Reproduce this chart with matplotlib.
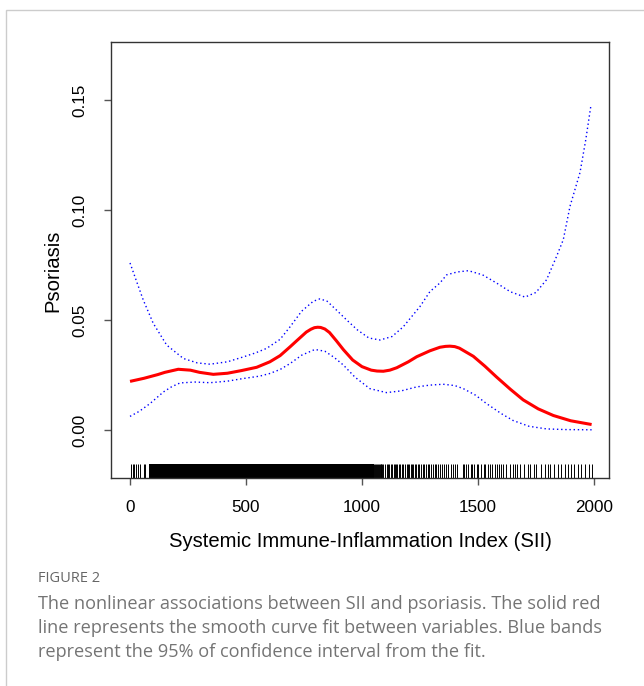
import numpy as np
import matplotlib
matplotlib.use("Agg")
import matplotlib.pyplot as plt
from matplotlib.patches import Rectangle

# smooth curve fit (red) and 95% CI bounds (blue dotted)
fit_x = [0, 60, 120, 150, 208, 260, 300, 359, 420, 480, 546, 603, 647, 690, 718,
         760, 780, 795, 809, 822, 840, 860, 890, 920, 960, 1000, 1040, 1065, 1092,
         1120, 1150, 1200, 1236, 1293, 1336, 1360, 1379, 1400, 1420, 1480, 1530,
         1580, 1640, 1695, 1760, 1825, 1900, 1990]
fit_y = [0.0221, 0.0235, 0.0252, 0.0262, 0.0276, 0.0272, 0.0262, 0.0253, 0.0258,
         0.0270, 0.0285, 0.0310, 0.0338, 0.0378, 0.0405, 0.0445, 0.0458, 0.0465,
         0.0467, 0.0466, 0.0459, 0.0443, 0.0405, 0.0365, 0.0318, 0.0288, 0.0272,
         0.0268, 0.0267, 0.0272, 0.0283, 0.0310, 0.0333, 0.0360, 0.0376, 0.0380,
         0.0381, 0.0379, 0.0372, 0.0335, 0.0290, 0.0241, 0.0185, 0.0137, 0.0096,
         0.0066, 0.0042, 0.0025]

upper_x = [0, 30, 57, 100, 158, 230, 290, 345, 420, 488, 540, 589, 647, 690, 740,
           790, 819, 850, 890, 934, 980, 1030, 1078, 1130, 1178, 1250, 1293, 1336,
           1365, 1410, 1459, 1520, 1580, 1640, 1703, 1750, 1796, 1839, 1868, 1897,
           1940, 1965, 1987]
upper_y = [0.0759, 0.0670, 0.0591, 0.0485, 0.0386, 0.0325, 0.0305, 0.0299, 0.0310,
           0.0332, 0.0350, 0.0371, 0.0412, 0.0469, 0.0540, 0.0585, 0.0596, 0.0585,
           0.0545, 0.0500, 0.0455, 0.0418, 0.0409, 0.0425, 0.0469, 0.0561, 0.0629,
           0.0668, 0.0705, 0.0718, 0.0724, 0.0705, 0.0668, 0.0628, 0.0604, 0.0625,
           0.0683, 0.0789, 0.0865, 0.1017, 0.1170, 0.1320, 0.1474]

lower_x = [0, 40, 86, 144, 180, 216, 280, 345, 420, 488, 560, 603, 647, 690, 740,
           797, 840, 880, 920, 970, 1034, 1106, 1170, 1236, 1293, 1350, 1400, 1437,
           1490, 1537, 1600, 1652, 1720, 1796, 1880, 1990]
lower_y = [0.0062, 0.0085, 0.0120, 0.0173, 0.0197, 0.0214, 0.0218, 0.0215, 0.0222,
           0.0234, 0.0245, 0.0257, 0.0275, 0.0302, 0.0340, 0.0366, 0.0358, 0.0330,
           0.0295, 0.0240, 0.0188, 0.0170, 0.0178, 0.0196, 0.0204, 0.0208, 0.0202,
           0.0188, 0.0158, 0.0120, 0.0075, 0.0043, 0.0017, 0.0005, 0.0002, 0.0001]

# rug of observed SII values: saturated block plus single ticks
rug_block = (80, 1050)
rug_ticks = [3, 11, 19, 27, 34, 41, 62, 66,
             1053, 1056, 1060, 1064, 1068, 1072, 1076, 1080, 1084, 1088, 1091,
             1100, 1106, 1111, 1118, 1125, 1131, 1137, 1142, 1148, 1153, 1160,
             1166, 1172, 1178, 1185, 1192, 1198, 1204, 1210, 1216, 1222, 1229,
             1235, 1241, 1248, 1255, 1262, 1269, 1276, 1283, 1290, 1298, 1306,
             1313, 1321, 1329, 1337, 1346, 1355, 1364, 1373, 1382, 1392, 1402,
             1410, 1436, 1442, 1448, 1456, 1468, 1475, 1485, 1495, 1500, 1512,
             1525, 1532, 1545, 1552, 1560, 1572, 1580, 1590, 1600, 1610, 1622,
             1640, 1650, 1660, 1668, 1680, 1700, 1715, 1725, 1740, 1752, 1770,
             1790, 1800, 1812, 1830, 1845, 1860, 1875, 1890, 1900, 1915, 1930,
             1945, 1960, 1980, 1990]

xticks = [0, 500, 1000, 1500, 2000]
yticks = [0.00, 0.05, 0.10, 0.15]

caption_title = "FIGURE 2"
caption_lines = [
    "The nonlinear associations between SII and psoriasis. The solid red",
    "line represents the smooth curve fit between variables. Blue bands",
    "represent the 95% of confidence interval from the fit.",
]

plt.rcParams['font.family'] = ['Liberation Sans', 'DejaVu Sans']

W, H = 644, 686
fig = plt.figure(figsize=(W / 100, H / 100), dpi=100)
ax = fig.add_axes([111 / W, 1 - 478 / H, (609 - 111) / W, (478 - 42) / H])

ax.plot(fit_x, fit_y, color='#ff0000', lw=2.2, solid_capstyle='butt',
        solid_joinstyle='round', zorder=3)
ax.plot(upper_x, upper_y, color='#0000ff', lw=1.0, linestyle=(0, (1, 2.0)))
ax.plot(lower_x, lower_y, color='#0000ff', lw=1.0, linestyle=(0, (1, 2.0)))

rug_h = 0.031
tr = ax.get_xaxis_transform()
ax.add_patch(Rectangle((rug_block[0], 0), rug_block[1] - rug_block[0], rug_h,
                       transform=tr, facecolor='black', edgecolor='none'))
ax.vlines(rug_ticks, 0, rug_h, transform=tr, color='black', lw=0.7)

ax.set_xlim(-82, 2065)
ax.set_ylim(-0.0218, 0.1763)
ax.set_xticks(xticks)
ax.set_xticklabels([str(v) for v in xticks])
ax.set_yticks(yticks)
ax.set_yticklabels(["%.2f" % v for v in yticks])

for s in ax.spines.values():
    s.set_color('#333333')
    s.set_linewidth(1.0)
ax.tick_params(length=5, width=1.0, color='#555555', labelsize=12.3, pad=11)
ax.tick_params(axis='y', labelrotation=90, pad=12)
for lbl in ax.get_yticklabels():
    lbl.set_va('center')

ax.set_xlabel("Systemic Immune-Inflammation Index (SII)", fontsize=14.6, labelpad=12)
ax.set_ylabel("Psoriasis", fontsize=14.6)
ax.yaxis.set_label_coords(-0.097, 0.475)

# light frame around the figure panel
fig.add_artist(Rectangle((6 / W, -0.1), 1.2, 1 - 10 / H + 0.1,
                         transform=fig.transFigure, facecolor='none',
                         edgecolor='#cccccc', lw=1.0))

fig.text(38 / W, 1 - 578 / H, caption_title, fontsize=10.5, color='#666666',
         family=['Open Sans', 'DejaVu Sans'], va='center')
for i, line in enumerate(caption_lines):
    fig.text(38 / W, 1 - (604 + 24 * i) / H, line, fontsize=13.1, color='#747474',
             family=['Open Sans', 'DejaVu Sans'], va='center')

fig.savefig('out.png', dpi=100)
